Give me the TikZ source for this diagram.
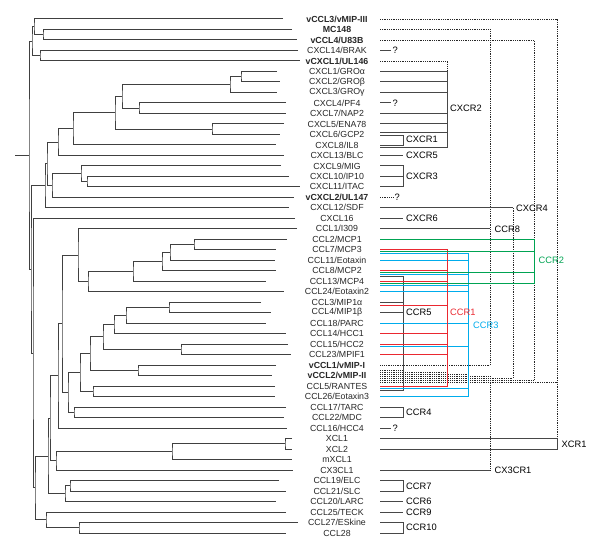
\documentclass[tikz,border=0pt]{standalone}
\usepackage{fontspec}
\setmainfont{Liberation Sans}
\usetikzlibrary{calc}

\definecolor{ccrred}{RGB}{234,40,48}
\definecolor{ccrgreen}{RGB}{0,163,82}
\definecolor{ccrblue}{RGB}{0,172,236}

% one binary node of the tree: name, x, first child, second child
\newcommand{\clade}[4]{%
  \path ($(#3)!.5!(#4)$) coordinate (#1m);
  \coordinate (#1) at (#2,0 |- #1m);
  \draw[branch] (#3) -| (#1) |- (#4);
}
% ligand row -> receptor bar: [style] row, offset, bar
\newcommand{\lig}[4][bind]{%
  \draw[#1] ($(s#2)+(0,#3)$) -- ($(s#2 -| #4)+(0,#3)$);
}

\begin{document}
\begin{tikzpicture}[
  x=1pt, y=-1pt,
  branch/.style={draw=black!75, line width=1pt},
  lbl/.style={font=\fontsize{8.8}{9}\selectfont, text=black!85, inner sep=0pt},
  rcp/.style={font=\fontsize{9.3}{10}\selectfont, anchor=west, inner sep=3pt},
  bind/.style={draw=black!72, line width=0.9pt},
  vdot/.style={draw=black!85, line width=0.8pt, dash pattern=on 0.9pt off 0.9pt},
  ccr1/.style={draw=ccrred, line width=0.9pt},
  ccr2/.style={draw=ccrgreen, line width=0.9pt},
  ccr3/.style={draw=ccrblue, line width=0.9pt}
]
\useasboundingbox (0,0) rectangle (600,553);

% leaf tips and line starts
\foreach \tx [count=\i] in {283,292,297,298,300,277,280,277,286,286,
  284,280,276,284,281,289,300,294,289,295,297,287,276,275,276,266,284,
  261,271,266,286,288,291,276,272,275,275,286,284,287,292,292,292,293,
  279,286,276,286,298,286} {
  \coordinate (t\i) at (\tx,{19+(\i-1)*10.49});
  \coordinate (s\i) at (380,{19+(\i-1)*10.49});
}

% names
\foreach \chem [count=\i] in {\textbf{vCCL3/vMIP-III}, \textbf{MC148},
  \textbf{vCCL4/U83B}, CXCL14/BRAK, \textbf{vCXCL1/UL146}, CXCL1/GROα,
  CXCL2/GROβ, CXCL3/GROγ, CXCL4/PF4, CXCL7/NAP2, CXCL5/ENA78, CXCL6/GCP2,
  CXCL8/IL8, CXCL13/BLC, CXCL9/MIG, CXCL10/IP10, CXCL11/ITAC,
  \textbf{vCXCL2/UL147}, CXCL12/SDF, CXCL16, CCL1/I309, CCL2/MCP1,
  CCL7/MCP3, CCL11/Eotaxin, CCL8/MCP2, CCL13/MCP4, CCL24/Eotaxin2,
  CCL3/MIP1α, CCL4/MIP1β, CCL18/PARC, CCL14/HCC1, CCL15/HCC2, CCL23/MPIF1,
  \textbf{vCCL1/vMIP-I}, \textbf{vCCL2/vMIP-II}, CCL5/RANTES,
  CCL26/Eotaxin3, CCL17/TARC, CCL22/MDC, CCL16/HCC4, XCL1, XCL2, mXCL1,
  CX3CL1, CCL19/ELC, CCL21/SLC, CCL20/LARC, CCL25/TECK, CCL27/ESkine, CCL28}
  \node[lbl] (l\i) at (337,{19+(\i-1)*10.49}) {\chem};

% tree
\clade{n43}{43}{t2}{t3}
\clade{n34}{34}{t1}{n43}
\clade{n40}{40}{t4}{t5}
\clade{n32}{32}{n34}{n40}
\clade{n241}{241}{t6}{t7}
\clade{n230}{230}{n241}{t8}
\clade{n139}{139}{t9}{t10}
\clade{n122}{122}{n230}{n139}
\clade{n212}{212}{t11}{t12}
\clade{n115}{115}{n122}{n212}
\clade{n73}{73}{n115}{t13}
\clade{n58c}{58}{n73}{t14}
\clade{n87}{87}{t16}{t17}
\clade{n81}{81}{t15}{n87}
\clade{n52}{52}{n81}{t18}
\clade{n47}{47}{n58c}{n52}
\clade{n45}{45}{n47}{t19}
\clade{n194}{194}{t22}{t23}
\clade{n170}{170}{n194}{t24}
\clade{n162}{162}{n170}{t25}
\clade{n133}{133}{n162}{t26}
\clade{n88}{88}{n133}{t27}
\clade{n78}{78}{t21}{n88}
\clade{n169}{169}{t28}{t29}
\clade{n126}{126}{n169}{t30}
\clade{n114}{114}{n126}{t31}
\clade{n181}{181}{t32}{t33}
\clade{n103}{103}{n114}{n181}
\clade{n138}{138}{t34}{t35}
\clade{n90}{90}{n103}{n138}
\clade{n93}{93}{t36}{t37}
\clade{n80}{80}{n90}{n93}
\clade{n74}{74}{t38}{t39}
\clade{n68}{68}{n80}{n74}
\clade{n62}{62}{n78}{n68}
\clade{n58}{58}{n62}{t40}
\clade{n285}{285}{t41}{t42}
\clade{n172}{172}{n285}{t43}
\clade{n56}{56}{n172}{t44}
\clade{n50}{50}{n58}{n56}
\clade{n70}{70}{t45}{t46}
\clade{n65}{65}{n70}{t47}
\clade{n48}{48}{n50}{n65}
\clade{n79}{79}{t49}{t50}
\clade{n46}{46}{t48}{n79}
\clade{n35}{35}{n48}{n46}
\clade{n33}{33}{t20}{n35}
\clade{n31}{31}{n45}{n33}
\clade{root}{29}{n32}{n31}
\draw[branch] (root) -- ++(-14,0);

% receptor bars
\coordinate (xCR5) at (403,0);
\coordinate (xCR1) at (447,0);
\coordinate (xCR3) at (468,0);
\coordinate (xCR8) at (490,0);
\coordinate (xCX4) at (513,0);
\coordinate (xCR2) at (534,0);
\coordinate (xXC1) at (557,0);

% viral ligands
\draw[vdot] (s1) -| (s41 -| xXC1);
\draw[vdot] (s2) -| (s34 -| xCR8) -- (s34);
\draw[vdot] (s3) -| (s22 -| xCR2);
\draw[vdot] ($(s26 -| xCR2)+(0,2)$) -- ($(s35 -| xCR2)+(0,4.5)$);
\draw[vdot] (s5) -| (s6 -| xCR1);
\draw[vdot] (s19 -| xCX4) -- ($(s35 -| xCX4)+(0,2.5)$);
\draw[vdot] ($(s35 -| xCR8)+(0,0.5)$) -- (s44 -| xCR8);
\foreach \o/\bar in {-5.5/xCR5,-3.5/xCR1,-1.5/xCR3,0.5/xCR8,2.5/xCX4,
  4.5/xCR2,6.5/xXC1}
  \lig[vdot]{35}{\o}{\bar};

% CXC receptors
\draw[bind] (s6) -| ($(s13 -| xCR1)+(0,3)$) -- ($(s13)+(0,3)$);
\foreach \i in {7,8,10,11} \lig{\i}{0}{xCR1};
\lig{12}{-2}{xCR1}
\draw[bind] ($(s12)+(0,0.8)$) -| ($(s13 -| xCR5)+(0,0.5)$) -- ($(s13)+(0,0.5)$);
\node[rcp] (CXCR2) at ($(s9 -| xCR1)!.5!(s10 -| xCR1)$) {CXCR2};
\node[rcp] (CXCR1) at ($(s12 -| xCR5)!.5!(s13 -| xCR5)$) {CXCR1};
\node[rcp] (CXCR5) at (s14 -| xCR5) {CXCR5};
\draw[bind] (s14) -- (CXCR5);
\draw[bind] (s15) -| (s17 -| xCR5) -- (s17);
\lig{16}{0}{xCR5}
\node[rcp] (CXCR3) at (s16 -| xCR5) {CXCR3};
\node[rcp] (CXCR4) at (s19 -| xCX4) {CXCR4};
\draw[bind] (s19) -- (CXCR4);
\node[rcp] (CXCR6) at (s20 -| xCR5) {CXCR6};
\draw[bind] (s20) -- (CXCR6);

% unknown receptors
\foreach \i in {4,9,40} {
  \node[rcp, inner sep=1.5pt] (q\i) at ($(s\i)+(11,0)$) {?};
  \draw[bind] (s\i) -- (q\i);
}
\node[rcp, inner sep=1.5pt] (q18) at ($(s18)+(13,0)$) {?};
\draw[vdot] (s18) -- (q18);

% CC receptors
\node[rcp, inner sep=4.5pt] (CCR8) at (s21 -| xCR8) {CCR8};
\draw[bind] (s21) -- (CCR8);
\draw[bind] ($(s25)+(0,6)$) -| ($(s36 -| xCR5)+(0,4)$) -- ($(s36)+(0,4)$);
\lig{28}{0}{xCR5}
\lig{29}{0}{xCR5}
\node[rcp] (CCR5) at (s29 -| xCR5) {CCR5};
\draw[ccr3] ($(s23)+(0,4)$) -| (s37 -| xCR3) -- (s37);
\foreach \i/\o in {24/0,25/4,26/4,27/0,30/0,32/2,36/2}
  \lig[ccr3]{\i}{\o}{xCR3};
\node[rcp, text=ccrblue, inner sep=5pt] (CCR3) at ($(s30 -| xCR3)+(0,2)$) {CCR3};
\draw[ccr1] (s23) -| (s36 -| xCR1) -- (s36);
\foreach \i/\o in {25/0,26/0,28/2.8,31/0,32/0,33/0}
  \lig[ccr1]{\i}{\o}{xCR1};
\node[rcp, text=ccrred] (CCR1) at (s29 -| xCR1) {CCR1};
\draw[ccr2] (s22) -| ($(s26 -| xCR2)+(0,2)$) -- ($(s26)+(0,2)$);
\lig[ccr2]{23}{2}{xCR2}
\lig[ccr2]{25}{2}{xCR2}
\node[rcp, text=ccrgreen, inner sep=4.5pt] (CCR2) at (s24 -| xCR2) {CCR2};
\draw[bind] (s38) -| (s39 -| xCR5) -- (s39);
\node[rcp] (CCR4) at ($(s38 -| xCR5)!.5!(s39 -| xCR5)$) {CCR4};

% XC, CX3C and the rest
\draw[bind] (s41) -| (s42 -| xXC1) -- (s42);
\node[rcp, inner sep=4.5pt] (XCR1) at ($(s41 -| xXC1)!.5!(s42 -| xXC1)$) {XCR1};
\node[rcp, inner sep=4.5pt] (CX3CR1) at (s44 -| xCR8) {CX3CR1};
\draw[bind] (s44) -- (CX3CR1);
\draw[bind] (s45) -| (s46 -| xCR5) -- (s46);
\node[rcp] (CCR7) at ($(s45 -| xCR5)!.5!(s46 -| xCR5)$) {CCR7};
\node[rcp] (CCR6) at (s47 -| xCR5) {CCR6};
\draw[bind] (s47) -- (CCR6);
\node[rcp] (CCR9) at (s48 -| xCR5) {CCR9};
\draw[bind] (s48) -- (CCR9);
\draw[bind] (s49) -| (s50 -| xCR5) -- (s50);
\node[rcp] (CCR10) at ($(s49 -| xCR5)!.5!(s50 -| xCR5)$) {CCR10};
\end{tikzpicture}
\end{document}
